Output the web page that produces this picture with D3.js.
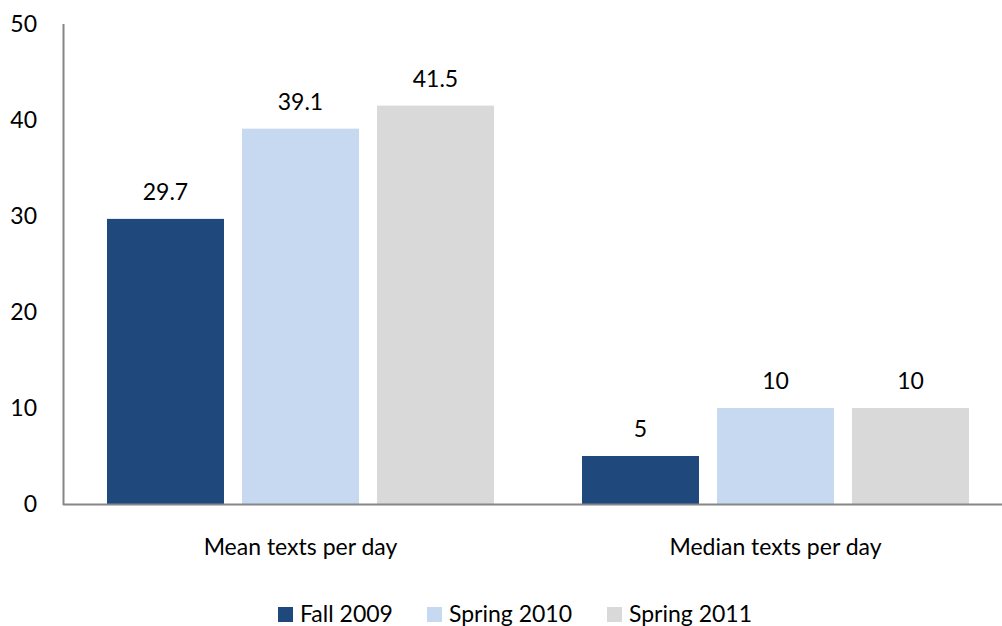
<!DOCTYPE html>
<html>
<head>
<meta charset="utf-8">
<script src="https://cdn.jsdelivr.net/npm/d3@7"></script>
<style>
  body { margin: 0; background: #fff; }
  text { font-family: Lato, "Open Sans", sans-serif; fill: #000; }
</style>
</head>
<body>
<div id="myChart"></div>
<script>
let svgW = 1002;
let svgH = 626;

// data
const categories = ["Mean texts per day", "Median texts per day"];
const seriesNames = ["Fall 2009", "Spring 2010", "Spring 2011"];
const fall2009 = [29.7, 5];
const spring2010 = [39.1, 10];
const spring2011 = [41.5, 10];
const yTicks = [0, 10, 20, 30, 40, 50];

const colors = ["#1F497D", "#C6D9F1", "#D9D9D9"];
const seriesValues = [fall2009, spring2010, spring2011];
const fontSize = "23px";

let svg = d3.select("#myChart").append("svg")
  .attr("width", svgW)
  .attr("height", svgH);

const x0 = d3.scaleBand().domain(categories).range([63, 1013]).padding(0);
const x1 = d3.scaleBand().domain(seriesNames)
  .range([44, x0.bandwidth() - 44])
  .paddingInner(18 / 135).paddingOuter(0);
const y = d3.scaleLinear().domain([0, 50]).range([504, 24]);

// y labels (no tick marks)
svg.selectAll(".ylab")
  .data(yTicks)
  .enter()
  .append("text")
  .attr("x", 37)
  .attr("y", d => y(d) + 8)
  .attr("text-anchor", "end")
  .style("font-size", fontSize)
  .text(d => d);

// bars
const groups = svg.selectAll(".grp")
  .data(categories)
  .enter()
  .append("g")
  .attr("transform", d => "translate(" + x0(d) + ",0)");

groups.each(function(cat, ci) {
  const g = d3.select(this);
  seriesNames.forEach((s, si) => {
    const v = seriesValues[si][ci];
    g.append("rect")
      .attr("x", x1(s))
      .attr("y", y(v))
      .attr("width", x1.bandwidth())
      .attr("height", y(0) - y(v))
      .attr("fill", colors[si]);
    g.append("text")
      .attr("x", x1(s) + x1.bandwidth() / 2)
      .attr("y", y(v) - 19)
      .attr("text-anchor", "middle")
      .style("font-size", fontSize)
      .text(v);
  });
});

// axes lines
svg.append("line")
  .attr("x1", 63.5).attr("x2", 63.5)
  .attr("y1", y(50)).attr("y2", y(0) + 1)
  .style("stroke", "#868686").style("stroke-width", 2);
svg.append("line")
  .attr("x1", 63).attr("x2", svgW)
  .attr("y1", y(0) + 0.5).attr("y2", y(0) + 0.5)
  .style("stroke", "#868686").style("stroke-width", 2);

// category labels
svg.selectAll(".cat")
  .data(categories)
  .enter()
  .append("text")
  .attr("x", d => x0(d) + x0.bandwidth() / 2)
  .attr("y", 555)
  .attr("text-anchor", "middle")
  .style("font-size", fontSize)
  .text(d => d);

// legend
const legendX = [278, 427, 607];
seriesNames.forEach((s, i) => {
  svg.append("rect")
    .attr("x", legendX[i]).attr("y", 607)
    .attr("width", 15).attr("height", 15)
    .attr("fill", colors[i]);
  svg.append("text")
    .attr("x", legendX[i] + 22).attr("y", 622)
    .style("font-size", fontSize)
    .text(s);
});
</script>
</body>
</html>
